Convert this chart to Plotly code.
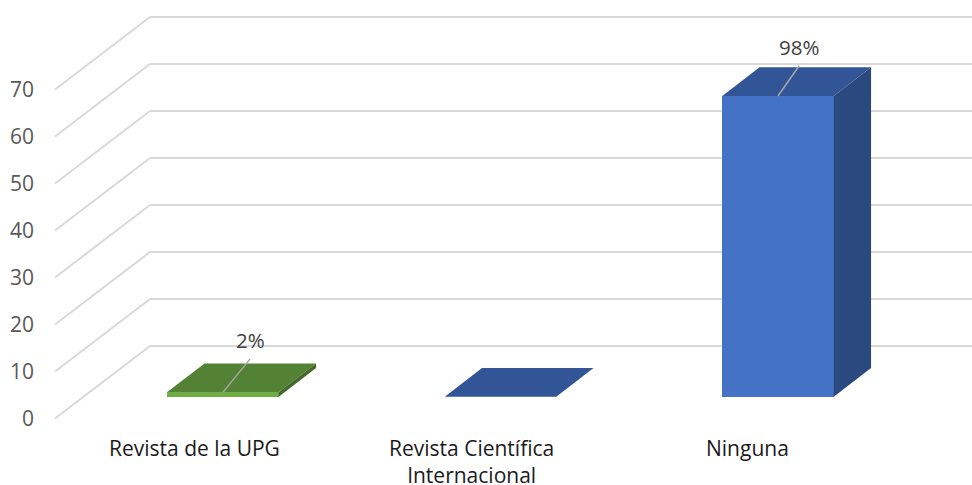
import plotly.graph_objects as go

categories = ["Revista de la UPG", "Revista Científica<br>Internacional", "Ninguna"]
values = [1, 0, 64]
percent_labels = ["2%", None, "98%"]
axis_ticks = [0, 10, 20, 30, 40, 50, 60, 70]

front_colors = ["#70AD47", "#4472C4", "#4472C4"]
top_colors = ["#548235", "#325597", "#325597"]
side_colors = ["#44692B", "#2A4A7F", "#2A4A7F"]

W, H = 972, 485
PX_PER_CAT = 277.5
PX_PER_UNIT = 4.7
CAT1_PX = 223.0
BASE_PX = 396.8
BAR_W = 111.5 / PX_PER_CAT
DEPTH_X = 37.3 / PX_PER_CAT
DEPTH_Y = 28.7 / PX_PER_UNIT
TEXT = "Open Sans"


def X(px):
    return 1 + (px - CAT1_PX) / PX_PER_CAT


def Y(px):
    return (BASE_PX - px) / PX_PER_UNIT


xs = [1, 2, 3]
fig = go.Figure()

# front faces
fig.add_trace(go.Bar(x=xs, y=values, width=BAR_W, marker=dict(color=front_colors, line=dict(width=0)),
                     hoverinfo="skip", showlegend=False))

for x, v, ct, cs, lab in zip(xs, values, top_colors, side_colors, percent_labels):
    l, r = x - BAR_W / 2, x + BAR_W / 2
    # top face
    fig.add_trace(go.Scatter(x=[l, r, r + DEPTH_X, l + DEPTH_X, l], y=[v, v, v + DEPTH_Y, v + DEPTH_Y, v],
                             mode="lines", fill="toself", fillcolor=ct, line=dict(width=0),
                             hoverinfo="skip", showlegend=False))
    # side face
    if v > 0:
        fig.add_trace(go.Scatter(x=[r, r + DEPTH_X, r + DEPTH_X, r, r],
                                 y=[0, DEPTH_Y, v + DEPTH_Y, v, 0],
                                 mode="lines", fill="toself", fillcolor=cs, line=dict(width=0),
                                 hoverinfo="skip", showlegend=False))
    # leader line and label
    if lab:
        x0 = x
        x1 = x + (27.0 if v < 10 else 21.0) / PX_PER_CAT
        y1 = v + (33.0 if v < 10 else 30.0) / PX_PER_UNIT
        fig.add_trace(go.Scatter(x=[x0, x1], y=[v, y1], mode="lines",
                                 line=dict(color="#A6A6A6", width=1.5),
                                 hoverinfo="skip", showlegend=False))
        fig.add_annotation(x=x1, y=y1, text=lab, showarrow=False, yanchor="bottom", yshift=3,
                           font=dict(family=TEXT, size=20.5, color="#404040"))

# walls and floor grid
shapes = []
for t in axis_ticks:
    back_y = t + Y(346.0)
    front_y = t + Y(418.5)
    shapes.append(dict(type="line", xref="x", yref="y", layer="below",
                       x0=X(55), y0=front_y, x1=X(150), y1=back_y,
                       line=dict(color="#D9D9D9", width=2)))
    shapes.append(dict(type="line", xref="x", yref="y", layer="below",
                       x0=X(150), y0=back_y, x1=X(W), y1=back_y,
                       line=dict(color="#D9D9D9", width=2)))
    fig.add_annotation(x=X(36), y=t + Y(418.0), text=str(t), showarrow=False, xanchor="right",
                       font=dict(family=TEXT, size=21, color="#595959"))

label_shift = [-28.5, -29.0, -31.0]
for x, c, s in zip(xs, categories, label_shift):
    fig.add_annotation(x=x + s / PX_PER_CAT, y=Y(432), text=c, showarrow=False, yanchor="top",
                       font=dict(family=TEXT, size=21, color="#1A1A1A"))

fig.update_layout(
    width=W, height=H, autosize=False,
    margin=dict(l=0, r=0, t=0, b=0),
    paper_bgcolor="white", plot_bgcolor="white",
    shapes=shapes, showlegend=False, bargap=0,
    xaxis=dict(range=[X(0), X(W)], visible=False, fixedrange=True),
    yaxis=dict(range=[Y(H), Y(0)], visible=False, fixedrange=True),
)
fig.write_html("out.html", config=dict(displayModeBar=False),
               post_script="document.body.style.margin='0';")
